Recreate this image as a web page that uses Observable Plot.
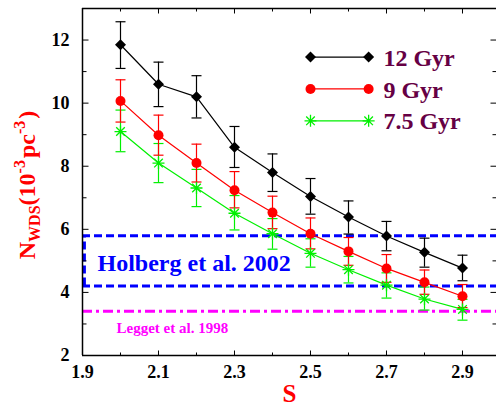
<!DOCTYPE html>
<html><head><meta charset="utf-8">
<script src="https://cdn.jsdelivr.net/npm/d3@7"></script>
<script src="https://cdn.jsdelivr.net/npm/@observablehq/plot@0.6"></script>
<style>
body{margin:0;background:#fff}
#chart{width:496px;height:405px;overflow:hidden}
</style>
</head><body><div id="chart"></div>
<script>
// ---- data ----
const S = [2.0, 2.1, 2.2, 2.3, 2.4, 2.5, 2.6, 2.7, 2.8, 2.9];
const n12   = [11.85, 10.6, 10.2, 8.6, 7.8, 7.04, 6.39, 5.79, 5.27, 4.77];
const n12Hi = [12.58, 11.3, 10.87, 9.26, 8.39, 7.61, 6.9, 6.25, 5.72, 5.18];
const n12Lo = [11.1, 9.89, 9.53, 7.96, 7.2, 6.48, 5.85, 5.32, 4.8, 4.37];
const n9    = [10.07, 8.98, 8.1, 7.24, 6.53, 5.86, 5.3, 4.76, 4.32, 3.88];
const n9Hi  = [10.74, 9.62, 8.7, 7.83, 7.05, 6.36, 5.74, 5.2, 4.71, 4.25];
const n9Lo  = [9.4, 8.35, 7.5, 6.68, 6.02, 5.38, 4.86, 4.32, 3.94, 3.52];
const n75   = [9.1, 8.1, 7.31, 6.51, 5.86, 5.24, 4.72, 4.23, 3.79, 3.46];
const n75Hi = [9.78, 8.72, 7.9, 7.07, 6.34, 5.7, 5.14, 4.62, 4.17, 3.78];
const n75Lo = [8.46, 7.48, 6.72, 5.98, 5.37, 4.8, 4.3, 3.82, 3.44, 3.12];
const seriesNames = ["12 Gyr", "9 Gyr", "7.5 Gyr"];
const holbergRange = [4.2, 5.8];
const holbergLabel = "Holberg et al. 2002";
const leggetValue = 3.4;
const leggetLabel = "Legget et al. 1998";
const xMajorTicks = [1.9, 2.1, 2.3, 2.5, 2.7, 2.9];
const xMinorTicks = [2.0, 2.2, 2.4, 2.6, 2.8];
const yMajorTicks = [2, 4, 6, 8, 10, 12];
const yMinorTicks = [3, 5, 7, 9, 11, 13];

// ---- build ----
const colors = ["#000000", "#ff0000", "#00f000"];
const rows = [];
[[n12, n12Hi, n12Lo], [n9, n9Hi, n9Lo], [n75, n75Hi, n75Lo]].forEach(([v, hi, lo], k) => {
  S.forEach((s, i) => rows.push({series: seriesNames[k], k, s, v: v[i], hi: hi[i], lo: lo[i]}));
});
const bySeries = k => rows.filter(d => d.k === k);

function seg(x0, y0, x1, y1) { return {draw(ctx) { ctx.moveTo(x0, y0); ctx.lineTo(x1, y1); }}; }
const diamond = {draw(ctx) { const r = 5.5; ctx.moveTo(0, -r); ctx.lineTo(r, 0); ctx.lineTo(0, r); ctx.lineTo(-r, 0); ctx.closePath(); }};
const star8 = {draw(ctx) { const r = 6, q = 4.3;
  ctx.moveTo(-r, 0); ctx.lineTo(r, 0); ctx.moveTo(0, -r); ctx.lineTo(0, r);
  ctx.moveTo(-q, -q); ctx.lineTo(q, q); ctx.moveTo(-q, q); ctx.lineTo(q, -q); }};
const cap = seg(-5, 0, 5, 0);

const xDomain = [1.9, 2.9895];
const yDomain = [2, 13];
const font = "Liberation Serif";

// legend placement in data space (top-right inside plot)
const legX1 = 2.5, legX2 = 2.653, legTX = 2.692;
const legY = [11.46, 10.45, 9.44];
const legend = seriesNames.map((name, k) => ({name, k, y: legY[k]}));

const marks = [];
// reference bands
marks.push(
  Plot.ruleY(holbergRange, {y: d => d, stroke: "#0000ff", strokeWidth: 3, strokeDasharray: "8,4"}),
  Plot.ruleX([xDomain[0] + 0.005], {x: d => d, y1: holbergRange[0], y2: holbergRange[1], stroke: "#0000ff", strokeWidth: 3, strokeDasharray: "8,4"}),
  Plot.ruleY([leggetValue], {y: d => d, stroke: "#ff00ff", strokeWidth: 3, strokeDasharray: "10,4,3,4"}),
  Plot.text([holbergLabel], {x: 1.9395, y: 4.93, text: d => d, textAnchor: "start", fill: "#0000ff", fontSize: 24, fontWeight: "bold", fontFamily: font}),
  Plot.text([leggetLabel], {x: 1.9895, y: 2.87, text: d => d, textAnchor: "start", fill: "#ff00ff", fontSize: 15, fontWeight: "bold", fontFamily: font})
);
// series
[2, 1, 0].forEach(k => {
  const data = bySeries(k), c = colors[k];
  marks.push(
    Plot.ruleX(data, {x: "s", y1: "lo", y2: "hi", stroke: c, strokeWidth: 1.2}),
    Plot.dot(data, {x: "s", y: "hi", symbol: cap, fill: "none", stroke: c, strokeWidth: 1.2}),
    Plot.dot(data, {x: "s", y: "lo", symbol: cap, fill: "none", stroke: c, strokeWidth: 1.2}),
    Plot.line(data, {x: "s", y: "v", stroke: c, strokeWidth: 1.2})
  );
});
const drawMarkers = (data, k, xKey, yKey) => {
  if (k === 0) return Plot.dot(data, {x: xKey, y: yKey, symbol: diamond, fill: "#000", stroke: "none"});
  if (k === 1) return Plot.dot(data, {x: xKey, y: yKey, r: 5, fill: "#ff0000", stroke: "none"});
  return Plot.dot(data, {x: xKey, y: yKey, symbol: star8, fill: "none", stroke: colors[2], strokeWidth: 1.3});
};
[2, 1, 0].forEach(k => marks.push(drawMarkers(bySeries(k), k, "s", "v")));
// legend
legend.forEach(d => {
  const pts = [{x: legX1, y: d.y}, {x: legX2, y: d.y}];
  marks.push(
    Plot.line(pts, {x: "x", y: "y", stroke: colors[d.k], strokeWidth: 1.2}),
    drawMarkers(pts, d.k, "x", "y")
  );
});
marks.push(Plot.text(legend, {x: () => legTX, y: "y", text: "name", textAnchor: "start", dy: 1, fill: "#660044", fontSize: 24, fontWeight: "bold", fontFamily: font}));
// frame
marks.push(
  Plot.ruleX([xDomain[0]], {x: d => d, stroke: "#000", strokeWidth: 1.5}),
  Plot.ruleY([yDomain[0]], {y: d => d, stroke: "#000", strokeWidth: 1.5}),
  Plot.ruleY([yDomain[1]], {y: d => d, stroke: "#000", strokeWidth: 1.5})
);
// ticks (inward)
const tk = (ticks, axis, anchor, len) => {
  const sym = anchor === "left" ? seg(0, 0, len, 0) : anchor === "right" ? seg(0, 0, -len, 0)
            : anchor === "bottom" ? seg(0, 0, 0, -len) : seg(0, 0, 0, len);
  return Plot.dot(ticks, {[axis]: d => d, frameAnchor: anchor, symbol: sym, fill: "none", stroke: "#000", strokeWidth: 1});
};
marks.push(
  tk(yMajorTicks, "y", "left", 6), tk(yMinorTicks, "y", "left", 4),
  tk(yMajorTicks, "y", "right", 6), tk(yMinorTicks, "y", "right", 4),
  tk(xMajorTicks, "x", "bottom", 5), tk(xMinorTicks, "x", "bottom", 3),
  tk(xMajorTicks, "x", "top", 5), tk(xMinorTicks, "x", "top", 3)
);
// tick labels
marks.push(
  Plot.text(yMajorTicks, {y: d => d, frameAnchor: "left", dx: -13, textAnchor: "end", lineAnchor: "middle", text: d => String(d), fontSize: 18, fontWeight: "bold", fontFamily: font, fill: "#000"}),
  Plot.text(xMajorTicks, {x: d => d, frameAnchor: "bottom", dy: 17, lineAnchor: "middle", text: d => d.toFixed(1), fontSize: 18, fontWeight: "bold", fontFamily: font, fill: "#000"}),
  Plot.text(["S"], {frameAnchor: "bottom", dy: 38, lineAnchor: "middle", text: d => d, fontSize: 25, fontWeight: "bold", fontFamily: font, fill: "#ff0000"})
);

const chart = Plot.plot({
  width: 496, height: 405,
  marginLeft: 82, marginRight: 0, marginTop: 8, marginBottom: 50,
  x: {domain: xDomain, axis: null},
  y: {domain: yDomain, axis: null},
  style: {fontFamily: font, background: "#fff"},
  marks
});

// y-axis label with subscript/superscripts
const svg = d3.select(chart);
const t = svg.append("text")
  .attr("transform", "translate(35,185) rotate(-90)")
  .attr("text-anchor", "middle")
  .attr("font-family", font).attr("font-weight", "bold").attr("font-size", 24).attr("fill", "#ff0000");
t.append("tspan").text("N");
t.append("tspan").attr("font-size", 16).attr("dy", 5).text("WDS");
t.append("tspan").attr("dy", -5).text("(10");
t.append("tspan").attr("font-size", 16).attr("dy", -10).text("-3");
t.append("tspan").attr("dy", 10).attr("dx", 2).text("pc");
t.append("tspan").attr("font-size", 16).attr("dy", -10).text("-3");
t.append("tspan").attr("dy", 10).attr("dx", 2).text(")");

document.getElementById("chart").appendChild(chart);
</script>
</body></html>
